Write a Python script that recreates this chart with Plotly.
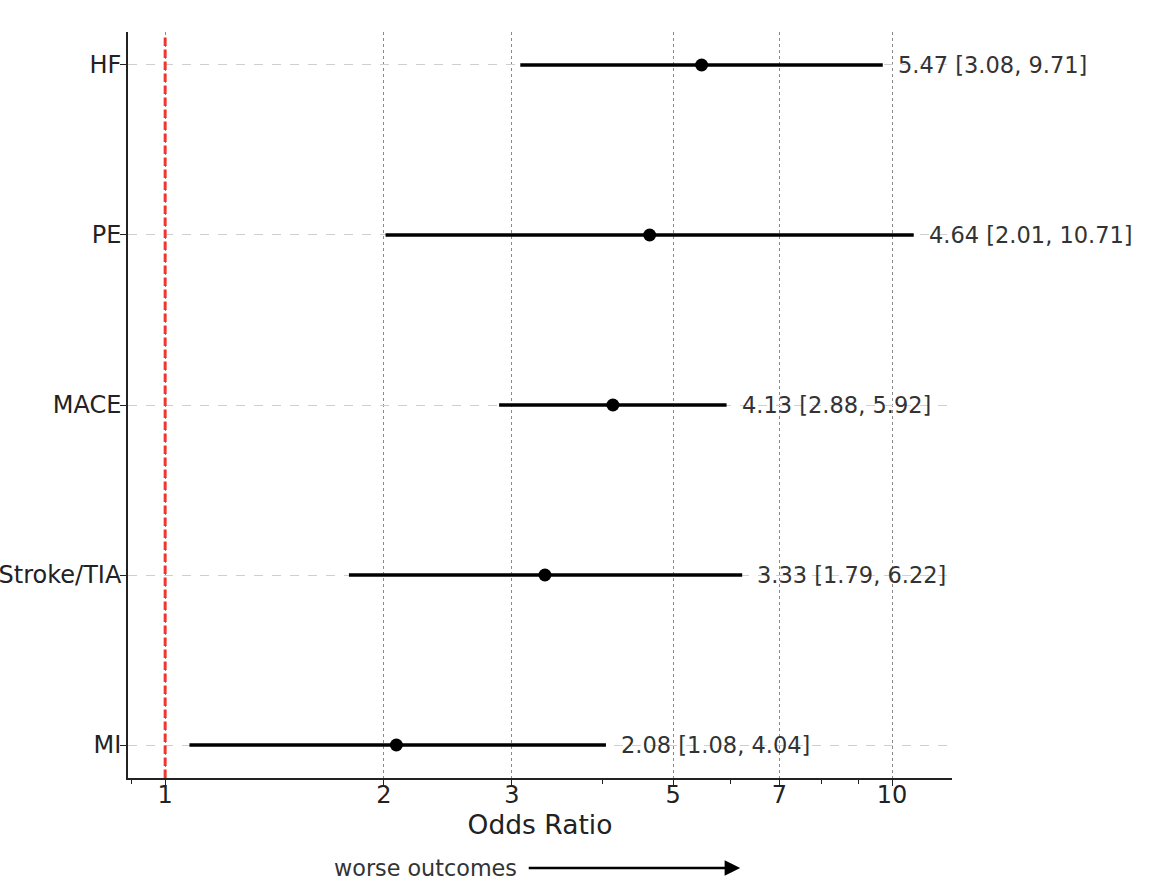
import math
import plotly.graph_objects as go

outcomes = ["MI", "Stroke/TIA", "MACE", "PE", "HF"]
odds_ratio = [2.08, 3.33, 4.13, 4.64, 5.47]
ci_low = [1.08, 1.79, 2.88, 2.01, 3.08]
ci_high = [4.04, 6.22, 5.92, 10.71, 9.71]
x_ticks = [1, 2, 3, 5, 7, 10]
x_minor = [0.9, 4, 6, 8, 9]

ypos = list(range(len(outcomes)))
FONT = "DejaVu Sans"

fig = go.Figure()

# CI lines
lx, ly = [], []
for i in ypos:
    lx += [ci_low[i], ci_high[i], None]
    ly += [i, i, None]
fig.add_trace(go.Scatter(x=lx, y=ly, mode="lines",
                         line=dict(color="black", width=3.5),
                         hoverinfo="skip", showlegend=False))
# Point estimates
fig.add_trace(go.Scatter(x=odds_ratio, y=ypos, mode="markers",
                         marker=dict(color="black", size=13),
                         showlegend=False))

# Reference line at OR = 1
fig.add_shape(type="line", xref="x", yref="paper", x0=1, x1=1, y0=0, y1=0.996,
              line=dict(color="rgba(240,40,30,0.92)", width=3, dash="8.5px,3.5px"))

# Value labels
for i in ypos:
    fig.add_annotation(x=math.log10(ci_high[i]), y=i, xref="x", yref="y",
                       text=f"{odds_ratio[i]:.2f} [{ci_low[i]:.2f}, {ci_high[i]:.2f}]",
                       showarrow=False, xanchor="left", yanchor="middle", xshift=13,
                       font=dict(family=FONT, size=22.5, color="#333333"))

# Direction note
fig.add_annotation(x=0.474, y=-0.1206, xref="paper", yref="paper",
                   text="worse outcomes", showarrow=False, xanchor="right",
                   yanchor="middle", font=dict(family=FONT, size=22.3, color="#333333"))
fig.add_annotation(x=0.743, y=-0.1206, xref="paper", yref="paper",
                   ax=-213, ay=0, axref="pixel", ayref="pixel", text="",
                   showarrow=True, arrowhead=2, arrowsize=1.2, arrowwidth=2.6,
                   arrowcolor="black")

fig.update_xaxes(type="log",
                 range=[math.log10(0.889), math.log10(12.09)],
                 tickvals=x_ticks, ticktext=[str(t) for t in x_ticks],
                 ticks="outside", ticklen=6, tickwidth=1.3, tickcolor="#222",
                 ticklabelstandoff=-12,
                 showline=True, linecolor="#222", linewidth=1.8,
                 showgrid=True, gridcolor="#8a8a8a", griddash="dot", gridwidth=1.2,
                 zeroline=False,
                 minor=dict(tickvals=x_minor, ticks="outside", ticklen=4,
                            tickcolor="#222", showgrid=False),
                 tickfont=dict(family=FONT, size=24, color="#222"),
                 title=dict(text="Odds Ratio", standoff=0,
                            font=dict(family=FONT, size=26.5, color="#222")))
fig.update_yaxes(range=[-0.194, 4.194],
                 tickvals=ypos, ticktext=outcomes,
                 ticks="outside", ticklen=6, tickwidth=1.3, tickcolor="#222",
                 ticklabelstandoff=-6,
                 showline=True, linecolor="#222", linewidth=1.8,
                 showgrid=True, gridcolor="#cfcfcf", griddash="dash", gridwidth=1,
                 zeroline=False, automargin=False,
                 tickfont=dict(family=FONT, size=24, color="#222"))

fig.update_layout(width=1156, height=894,
                  margin=dict(l=128, r=204, t=32, b=116, autoexpand=False),
                  plot_bgcolor="white", paper_bgcolor="white",
                  showlegend=False)

fig.write_html("out.html", config={"displayModeBar": False},
               post_script="document.body.style.margin='0';document.body.style.overflow='hidden';")
